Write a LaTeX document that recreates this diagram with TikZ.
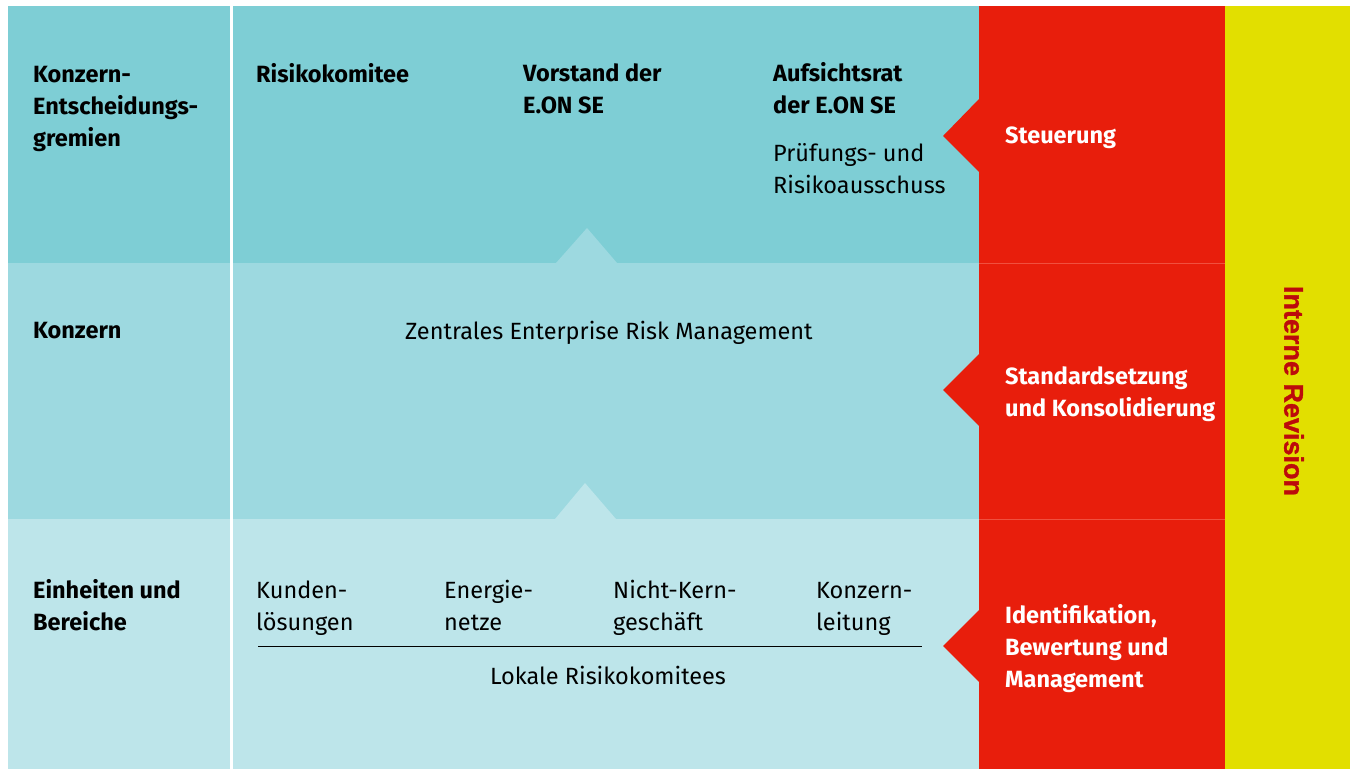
\documentclass[tikz,border=0pt]{standalone}
\usepackage{fontspec}
\setmainfont{Fira Sans}
\newfontfamily\revfont{Liberation Sans}[BoldFont={Liberation Sans Bold},BoldFeatures={FakeBold=1.2}]
\definecolor{toprow}{HTML}{7ECED5}
\definecolor{midrow}{HTML}{9DD9E0}
\definecolor{lowrow}{HTML}{BDE5EA}
\definecolor{eonred}{HTML}{E81E0C}
\definecolor{redline}{HTML}{F0503F}
\definecolor{eonyellow}{HTML}{E2DF00}
\definecolor{revred}{HTML}{BC0B0B}
\begin{document}
\begin{tikzpicture}[x=1pt,y=-1pt,line join=round,
    txt/.style={anchor=base west,inner sep=0pt,align=left,font=\fontsize{23.5}{32}\selectfont},
    head/.style={txt,font=\fontsize{23.5}{32}\selectfont\bfseries},
    side/.style={head,text=white}]
    \useasboundingbox[fill=white] (0,0) rectangle (1350,769);
    % rows
    \fill[toprow] (8,6) rectangle (979,263);
    \fill[midrow] (8,263) rectangle (979,519);
    \fill[lowrow] (8,519) rectangle (979,769);
    \fill[midrow] (556,263) -- (587,228) -- (617,263) -- cycle;
    \fill[lowrow] (555,519) -- (585,483) -- (616,519) -- cycle;
    \fill[white] (230,6) rectangle (233,769);
    % right columns
    \fill[eonred] (979,6) rectangle (1225,769);
    \draw[redline,line width=.8pt] (979,263) -- (1225,263) (979,519) -- (1225,519);
    \fill[eonred] (979,99) -- (943,136) -- (979,172) -- cycle;
    \fill[eonred] (979,354) -- (943,390) -- (979,426) -- cycle;
    \fill[eonred] (979,610) -- (943,646) -- (979,682) -- cycle;
    \fill[eonyellow] (1225,6) rectangle (1350,769);
    % top row (base = last line)
    \node[head] (gremien) at (33,146) {Konzern-\\Entscheidungs-\\gremien};
    \node[head] (komitee) at (256,82) {Risikokomitee};
    \node[head] (vorstand) at (523,113) {Vorstand der\\E.ON SE};
    \node[head] (aufsicht) at (773,113) {Aufsichtsrat\\der E.ON SE};
    \node[txt] (ausschuss) at (773,193) {Prüfungs- und\\Risikoausschuss};
    \node[side] (steuer) at (1005,143) {Steuerung};
    % middle row
    \node[head] (konzern) at (33,338) {Konzern};
    \node[txt] (erm) at (405,339) {Zentrales Enterprise Risk Management};
    \node[side] (standard) at (1005,416) {Standardsetzung\\und Konsolidierung};
    % bottom row
    \node[head] (einheit) at (33,630) {Einheiten und\\Bereiche};
    \node[txt] (kunden) at (256,630) {Kunden-\\lösungen};
    \node[txt] (netze) at (444,630) {Energie-\\netze};
    \node[txt] (nichtkern) at (613,630) {Nicht-Kern-\\geschäft};
    \node[txt] (leitung) at (816,630) {Konzern-\\leitung};
    \coordinate (linkA) at (258,646);
    \coordinate (linkB) at (922,646);
    \draw[line width=1pt] (linkA) -- (linkB);
    \node[txt,anchor=base] (lokal) at (608,684) {Lokale Risikokomitees};
    \node[side] (ident) at (1005,687) {Identifikation,\\Bewertung und\\Management};
    % revision
    \node[inner sep=0pt,rotate=-90,text=revred,font=\revfont\fontsize{27}{32}\selectfont\bfseries] (revision) at (1294,391) {Interne Revision};
\end{tikzpicture}
\end{document}
